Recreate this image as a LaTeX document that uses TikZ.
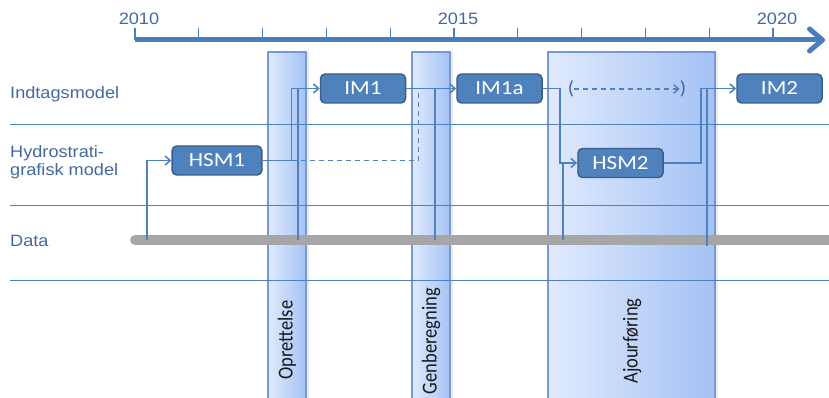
\documentclass[tikz,border=0pt]{standalone}
\usepackage{fontspec}
\setmainfont{Liberation Sans}
\newfontfamily\calfont{Carlito}
\definecolor{boxblue}{RGB}{79, 129, 189}
\definecolor{boxedge}{RGB}{56, 93, 138}
\definecolor{axisblue}{RGB}{74, 126, 187}
\definecolor{labelblue}{RGB}{68, 104, 160}
\definecolor{bandleft}{RGB}{224, 234, 252}
\definecolor{bandright}{RGB}{164, 194, 245}
\definecolor{bandedge}{RGB}{118, 152, 212}
\definecolor{datagray}{RGB}{166, 166, 166}
\usetikzlibrary{arrows.meta, calc, shadows}
\tikzset{
	box/.style={rectangle, rounded corners=4.5pt, draw=boxedge, fill=boxblue, line width=1.4pt, text=white, font=\calfont\fontsize{20}{22}\selectfont, minimum width=74pt, minimum height=29pt, inner sep=0pt, xscale=1.15},
	lanelabel/.style={font=\fontsize{16.5}{18.5}\selectfont, text=labelblue, align=left, inner sep=0pt, xscale=1.1},
	yearlabel/.style={font=\fontsize{16.5}{18}\selectfont, text=labelblue, inner sep=0pt, xscale=1.1},
	bandlabel/.style={font=\calfont\fontsize{18.5}{20}\selectfont, text=black!90, inner sep=0pt, xscale=1.15, rotate=90},
	paren/.style={font=\calfont\fontsize{19}{20}\selectfont, text=labelblue, inner sep=0pt, xscale=1.1},
	band/.style={left color=bandleft, right color=bandright, draw=bandedge, line width=1.1pt, drop shadow={shadow xshift=2.5pt, shadow yshift=0pt, opacity=0.15}},
	laneline/.style={draw=boxblue, line width=1pt},
	databar/.style={draw=datagray, line width=10pt, line cap=round},
	axisline/.style={draw=axisblue, line width=5pt, -{Straight Barb[length=13pt, width=22pt, round]}},
	tick/.style={draw=axisblue, line width=1.3pt},
	line/.style={draw=boxblue, line width=1.6pt},
	link/.style={line, -{Straight Barb[length=5pt, width=9pt]}},
	dashlink/.style={draw=boxblue, line width=1.4pt, dash pattern=on 5pt off 4pt},
}

\begin{document}
\begin{tikzpicture}[x=1pt, y=-1pt]
	\useasboundingbox (0,0) rectangle (829,398);
	% phases
	\path[band] (268,52) rectangle (306,410);
	\path[band] (412,52) rectangle (450,410);
	\path[band] (548,52) rectangle (715,410);
	\node[bandlabel] (opr) at (287,340) {Oprettelse};
	\node[bandlabel] (gen) at (431,341) {Genberegning};
	\node[bandlabel] (ajo) at (632,341) {Ajourføring};
	% lanes
	\foreach \y in {125,205,280}{\draw[laneline] (10,\y) -- (829,\y);}
	\node[lanelabel, anchor=base west] (ind) at (10,99) {Indtagsmodel};
	\node[lanelabel, anchor=west] (hyd) at (10,162) {Hydrostrati-\\grafisk model};
	\node[lanelabel, anchor=base west] (dat) at (10,246) {Data};
	\draw[databar] (135,240) -- (840,240);
	% time axis
	\draw[axisline] (135,40) -- (825,40);
	\foreach \i in {0,...,10}{\draw[tick] ({135+63.8*\i},28) -- ({135+63.8*\i},40);}
	\foreach \yr/\px in {2010/139,2015/458,2020/777}{\node[yearlabel] (y\yr) at (\px,18.5) {\yr};}
	% models
	\node[box, minimum width=78pt] (hsm1) at (217,160.5) {HSM1};
	\node[box] (im1) at (363,88.5) {IM1};
	\node[box] (im1a) at (499.5,88.5) {IM1a};
	\node[box] (im2) at (779.5,88.5) {IM2};
	\node[box] (hsm2) at (620.5,163) {HSM2};
	\node[paren] (lp) at (571,89) {(};
	\node[paren] (rp) at (683,89) {)};
	% data inputs
	\coordinate (dat1) at (147,240);
	\coordinate (dat2) at (298,240);
	\coordinate (dat3) at (435,240);
	\coordinate (dat4) at (563,240);
	\coordinate (dat5) at (707,246);
	\draw[link] (dat1) |- (hsm1.west);
	\draw[link] (hsm1.east) -- ++(29,0) |- (im1.west);
	\draw[dashlink] ([xshift=29pt]hsm1.east) -| ([xshift=12pt]im1.east);
	\draw[line] (dat2) -- (dat2 |- im1.west);
	\draw[link] (im1.east) -- (im1a.west);
	\draw[line] (dat3) -- (dat3 |- im1a.west);
	\draw[link] (im1a.east) -- ++(17,0) |- (hsm2.west);
	\draw[line] (dat4) -- (dat4 |- hsm2.west);
	\draw[link] (hsm2.east) -- ++(37,0) |- (im2.west);
	\draw[line] (dat5) -- (dat5 |- im2.west);
	\draw[dashlink, -{Straight Barb[length=5pt, width=9pt]}] (lp) -- (rp);
\end{tikzpicture}
\end{document}
